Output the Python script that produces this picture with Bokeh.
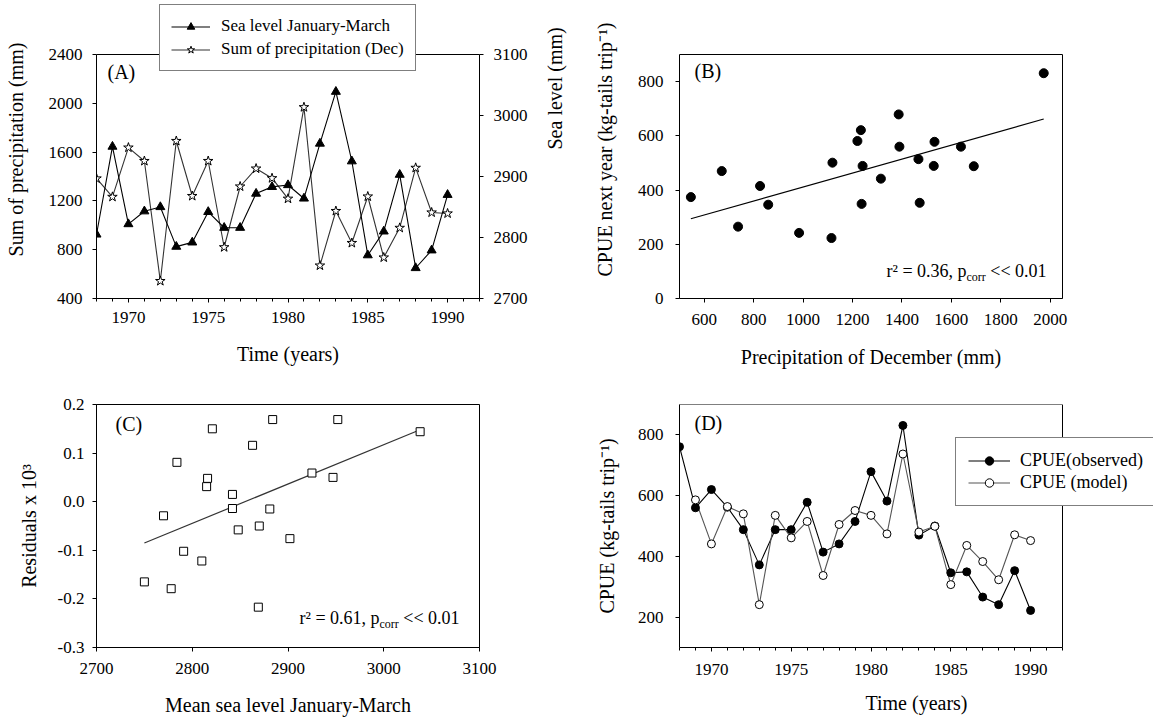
import math
from bokeh.plotting import figure
from bokeh.models import (Range1d, LinearAxis, FixedTicker, NumeralTickFormatter,
                          Legend, LegendItem, Label, BoxAnnotation)
from bokeh.layouts import row, column
from bokeh.embed import file_html
from bokeh.resources import INLINE

FONT = "Liberation Serif"
NAN = float("nan")

# ---------------- data ----------------
years = [1968, 1969, 1970, 1971, 1972, 1973, 1974, 1975, 1976, 1977, 1978, 1979,
         1980, 1981, 1982, 1983, 1984, 1985, 1986, 1987, 1988, 1989, 1990]
sea_level_jan_mar = [2805, 2949, 2822, 2843, 2850, 2785, 2792, 2842, 2816, 2816, 2872, 2883,
                     2886, 2864, 2954, 3039, 2925, 2771, 2810, 2903, 2750, 2779, 2870]
precip_dec = [1384, 1233, 1637, 1527, 543, 1691, 1240, 1527, 820, 1318, 1465, 1386,
              1218, 1968, 670, 1117, 855, 1236, 736, 979, 1471, 1105, 1097]

b_precip = [546, 671, 737, 826, 859, 984, 1115, 1119, 1220, 1234, 1241, 1237, 1315,
            1387, 1390, 1467, 1472, 1532, 1529, 1639, 1691, 1974]
b_cpue_next = [374, 470, 265, 415, 346, 242, 223, 501, 581, 621, 489, 349, 442,
               679, 560, 514, 353, 578, 489, 560, 488, 831]
b_fit_x = [546, 1974]
b_fit_y = [294, 662]

c_sea = [2750, 2770, 2778, 2784, 2791, 2810, 2815, 2816, 2821, 2842, 2842, 2848, 2863,
         2870, 2869, 2881, 2884, 2902, 2925, 2947, 2952, 3038]
c_resid = [-0.165, -0.029, -0.179, 0.081, -0.102, -0.122, 0.031, 0.048, 0.150, 0.015,
           -0.014, -0.058, 0.116, -0.050, -0.217, -0.015, 0.169, -0.076, 0.059, 0.050,
           0.169, 0.144]
c_fit_x = [2750, 3038]
c_fit_y = [-0.085, 0.148]

cpue_observed = [761, 560, 620, 562, 488, 372, 488, 488, 578, 414, 441, 515,
                 679, 582, 831, 470, 500, 346, 349, 266, 241, 353, 222]
cpue_model = [NAN, 586, 441, 564, 540, 241, 535, 461, 515, 337, 505, 551,
              535, 474, 737, 480, 499, 307, 436, 383, 323, 471, 452]

a_left_ticks = [400, 800, 1200, 1600, 2000, 2400]
a_right_ticks = [2700, 2800, 2900, 3000, 3100]
year_ticks = [1970, 1975, 1980, 1985, 1990]
year_minor_ticks = [1968, 1969, 1970, 1971, 1972, 1973, 1974, 1975, 1976, 1977, 1978, 1979,
                    1980, 1981, 1982, 1983, 1984, 1985, 1986, 1987, 1988, 1989, 1990, 1991, 1992]
b_x_ticks = [600, 800, 1000, 1200, 1400, 1600, 1800, 2000]
b_y_ticks = [0, 200, 400, 600, 800]
c_x_ticks = [2700, 2800, 2900, 3000, 3100]
c_y_ticks = [-0.3, -0.2, -0.1, 0.0, 0.1, 0.2]
d_y_ticks = [200, 400, 600, 800]

# axis limits of the drawn boxes
A_X = (1968, 1992)
A_YL = (400, 2400)
A_YR = (2700, 3100)
B_X = (500, 2050)
B_Y = (0, 900)
C_X = (2700, 3100)
C_Y = (-0.3, 0.2)
D_X = (1968, 1992)
D_Y = (100, 900)


# ---------------- helpers ----------------
def make_fig(w, h, xr, yr, bl, br, bt, bb, outline=True):
    p = figure(width=w, height=h, x_range=Range1d(*xr), y_range=Range1d(*yr),
               output_backend="svg", toolbar_location=None,
               min_border_left=bl, min_border_right=br,
               min_border_top=bt, min_border_bottom=bb)
    p.xgrid.visible = False
    p.ygrid.visible = False
    p.outline_line_color = "black" if outline else None
    p.outline_line_width = 1
    p.background_fill_color = "white"
    p.border_fill_color = "white"
    return p


def style_axis(ax, s1, s2, ticks, minor=None, label=""):
    ax.ticker = FixedTicker(ticks=ticks, minor_ticks=minor or [])
    ax.axis_label = label
    ax.major_label_text_font = FONT
    ax.major_label_text_font_size = "17px"
    ax.major_label_text_color = "black"
    ax.axis_label_text_font = FONT
    ax.axis_label_text_font_size = "20px"
    ax.axis_label_text_font_style = "normal"
    ax.axis_label_text_color = "black"
    ax.axis_line_color = "black"
    ax.major_tick_line_color = "black"
    ax.major_tick_in = 0
    ax.major_tick_out = 4
    ax.minor_tick_in = 0
    ax.minor_tick_out = 3
    ax.minor_tick_line_color = "black" if minor else None
    ax.major_label_standoff = s1
    ax.axis_label_standoff = s2


def style_legend(leg, size, gw, gh, lh, standoff, pad, spacing, lw=None):
    leg.label_text_font = FONT
    leg.label_text_font_size = size
    leg.label_text_color = "black"
    leg.glyph_width = gw
    leg.glyph_height = gh
    leg.label_height = lh
    leg.label_standoff = standoff
    leg.padding = pad
    leg.spacing = spacing
    leg.margin = 0
    leg.border_line_color = "black"
    leg.border_line_width = 1
    leg.background_fill_color = "white"
    leg.background_fill_alpha = 1
    if lw:
        leg.label_width = lw


def frame_box(p, xr, yr):
    p.add_layout(BoxAnnotation(left=xr[0], right=xr[1], bottom=yr[0], top=yr[1],
                               fill_color=None, fill_alpha=0, line_color="black",
                               line_width=1, line_alpha=1))


def plain_right_axis(p, bounds):
    ax = LinearAxis(ticker=FixedTicker(ticks=[]), bounds=bounds)
    ax.major_label_text_font_size = "0px"
    ax.major_tick_out = 0
    ax.major_tick_in = 0
    ax.minor_tick_out = 0
    ax.minor_tick_in = 0
    ax.axis_line_color = "black"
    p.add_layout(ax, "right")


def panel_label(p, x, y, dx, dy, text):
    p.add_layout(Label(x=x, y=y, x_offset=dx, y_offset=-dy, text=text,
                       text_font=FONT, text_font_size="20px", text_color="black",
                       text_align="left", text_baseline="middle"))


def stat_text(p, x, y, dx, dy_main, dy_sub, main, sub, tail, w_main, w_sub):
    p.add_layout(Label(x=x, y=y, x_offset=dx, y_offset=dy_main, text=main,
                       text_font=FONT, text_font_size="18px", text_color="black",
                       text_align="left", text_baseline="alphabetic"))
    p.add_layout(Label(x=x, y=y, x_offset=dx + w_main, y_offset=dy_sub, text=sub,
                       text_font=FONT, text_font_size="12px", text_color="black",
                       text_align="left", text_baseline="alphabetic"))
    p.add_layout(Label(x=x, y=y, x_offset=dx + w_main + w_sub + 4.5, y_offset=dy_main,
                       text=tail, text_font=FONT, text_font_size="18px", text_color="black",
                       text_align="left", text_baseline="alphabetic"))


# the two top frames reach up to the canvas top (54 px above the drawn boxes),
# so that the legend of panel A may stand over the top edge of its box
TOP_EXT = 54.0
BOX_H = 244.0


def extend(r):
    return r[1] + (r[1] - r[0]) / BOX_H * TOP_EXT


# ---------------- panel A ----------------
pa = make_fig(580, 378, A_X, (A_YL[0], extend(A_YL)), 96, 101, 0, 80, outline=False)
pa.extra_y_ranges = {"sea": Range1d(A_YR[0], extend(A_YR))}
ax_r = LinearAxis(y_range_name="sea")
pa.add_layout(ax_r, "right")
style_axis(pa.xaxis[0], 9, 17, year_ticks, year_minor_ticks, "Time (years)")
style_axis(pa.yaxis[0], 10, 19, a_left_ticks, None, "Sum of precipitation (mm)")
style_axis(ax_r, 10, 24, a_right_ticks, None, "Sea level (mm)")
pa.yaxis[0].bounds = A_YL
ax_r.bounds = A_YR
try:
    ax_r.axis_label_orientation = math.pi / 2
except Exception:
    pass

l_pr = pa.line(years, precip_dec, line_color="#333333", line_width=1.1)
l_sea = pa.line(years, sea_level_jan_mar, y_range_name="sea", line_color="black", line_width=1.1)
s_pr = pa.scatter(years, precip_dec, marker="star", size=10, fill_color="white",
                  line_color="black", line_width=1)
s_sea = pa.scatter(years, sea_level_jan_mar, y_range_name="sea", marker="triangle", size=9,
                   fill_color="black", line_color="black")
frame_box(pa, A_X, A_YL)
leg_a = Legend(items=[LegendItem(label="Sea level January-March", renderers=[l_sea, s_sea]),
                      LegendItem(label="Sum of precipitation (Dec)", renderers=[l_pr, s_pr])],
               location=(63, 227))
style_legend(leg_a, "17px", 39, 19, 19, 11, 11, 3)
pa.add_layout(leg_a)
panel_label(pa, A_X[0], A_YL[1], 11, 17, "(A)")

# ---------------- panel B ----------------
pb = make_fig(573, 378, B_X, (B_Y[0], extend(B_Y)), 99, 91, 0, 80, outline=False)
style_axis(pb.xaxis[0], 11, 18, b_x_ticks, None, "Precipitation of December (mm)")
style_axis(pb.yaxis[0], 12, 19, b_y_ticks, None, "CPUE next year (kg-tails trip\u207b\u00b9)")
pb.yaxis[0].bounds = B_Y
plain_right_axis(pb, B_Y)
pb.line(b_fit_x, b_fit_y, line_color="black", line_width=1.2)
pb.scatter(b_precip, b_cpue_next, marker="circle", size=9, fill_color="black", line_color="black")
frame_box(pb, B_X, B_Y)
panel_label(pb, B_X[0], B_Y[1], 15, 16, "(B)")
stat_text(pb, B_X[0], B_Y[0], 207, 28, 22, "r\u00b2 = 0.36, p", "corr", "<< 0.01", 80, 19.3)

# ---------------- panel C ----------------
pc = make_fig(580, 342, C_X, C_Y, 96, 101, 26, 73)
style_axis(pc.xaxis[0], 11, 17, c_x_ticks, None, "Mean sea level January-March")
style_axis(pc.yaxis[0], 8, 15, c_y_ticks, None, "Residuals x 10\u00b3")
pc.yaxis[0].formatter = NumeralTickFormatter(format="0.0")
pc.line(c_fit_x, c_fit_y, line_color="#333333", line_width=1.2)
pc.scatter(c_sea, c_resid, marker="square", size=8, fill_color="white", line_color="black",
           line_width=1)
panel_label(pc, C_X[0], C_Y[1], 19, 19, "(C)")
stat_text(pc, C_X[0], C_Y[0], 203, 30, 24, "r\u00b2 = 0.61, p", "corr", "<< 0.01", 80, 19.3)

# ---------------- panel D ----------------
# frame reaches the canvas right edge (91 px beyond the box) so the legend can run off it
D_RIGHT_EXT = 91.0
D_BOX_W = 383.0
d_x_end = D_X[1] + (D_X[1] - D_X[0]) / D_BOX_W * D_RIGHT_EXT

pdd = make_fig(573, 342, (D_X[0], d_x_end), D_Y, 99, 0, 26, 73, outline=False)
style_axis(pdd.xaxis[0], 12, 14, year_ticks, year_minor_ticks, "Time (years)")
style_axis(pdd.yaxis[0], 12, 17, d_y_ticks, None, "CPUE (kg-tails trip\u207b\u00b9)")
pdd.xaxis[0].bounds = D_X
l_obs = pdd.line(years, cpue_observed, line_color="black", line_width=1.1)
l_mod = pdd.line(years, cpue_model, line_color="#555555", line_width=1.1)
s_obs = pdd.scatter(years, cpue_observed, marker="circle", size=8, fill_color="black",
                    line_color="black")
s_mod = pdd.scatter(years, cpue_model, marker="circle", size=8, fill_color="white",
                    line_color="black", line_width=1)
frame_box(pdd, D_X, D_Y)
leg_d = Legend(items=[LegendItem(label="CPUE(observed)", renderers=[l_obs, s_obs]),
                      LegendItem(label="CPUE (model)", renderers=[l_mod, s_mod])],
               location=(276, 141))
style_legend(leg_d, "18px", 42, 21, 21, 10, 12, 1, lw=140)
pdd.add_layout(leg_d)
panel_label(pdd, D_X[0], D_Y[1], 15, 18, "(D)")

layout = column(row(pa, pb), row(pc, pdd))
open("out.html", "w").write(file_html(layout, INLINE))
